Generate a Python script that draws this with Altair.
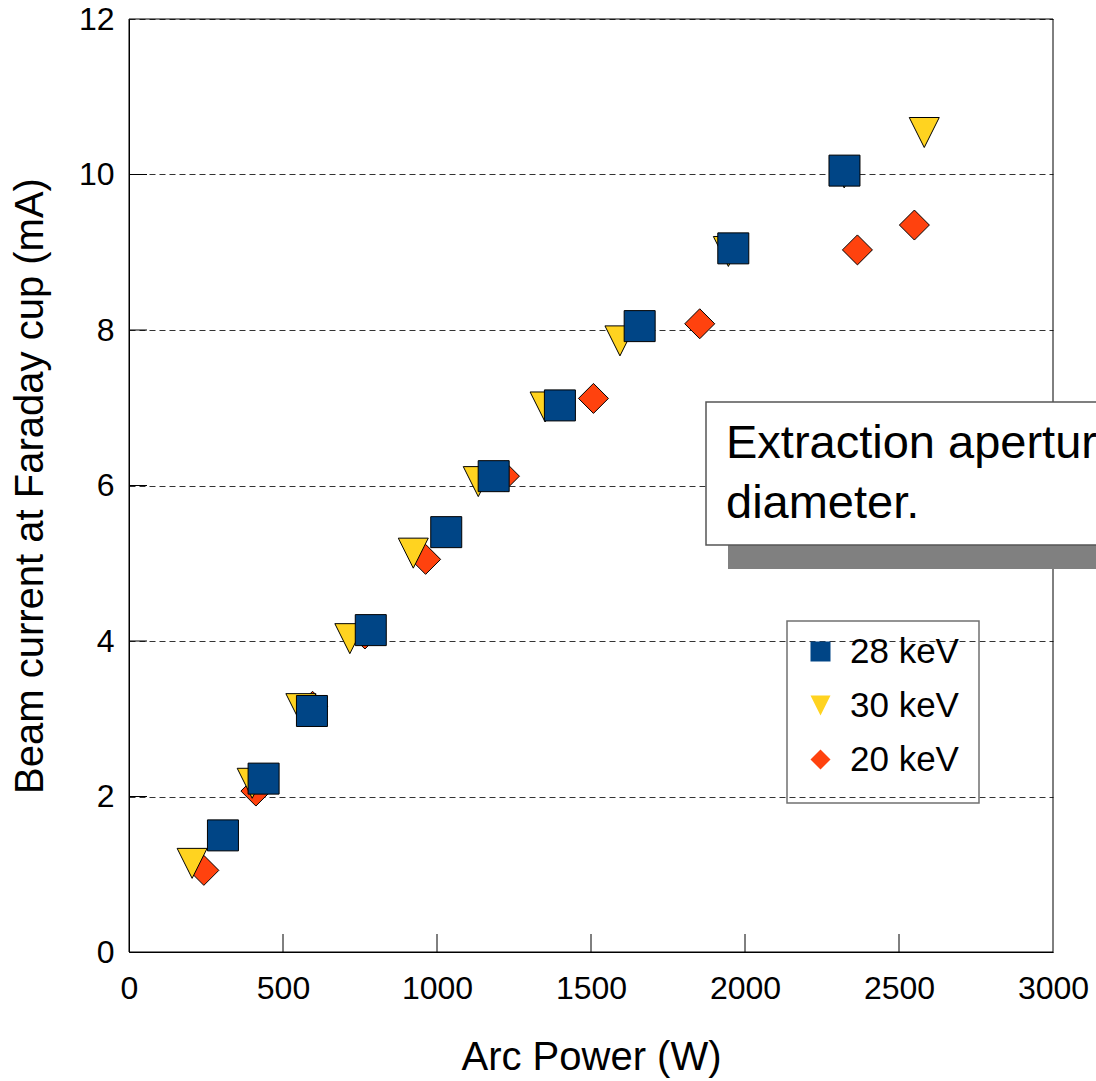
import altair as alt
import pandas as pd

# ---- data ----
series_names = ["28 keV", "30 keV", "20 keV"]
series_colors = ["#004586", "#ffd320", "#ff420e"]

power_28 = [305, 437, 594, 785, 1030, 1184, 1399, 1658, 1962, 2323]
current_28 = [1.50, 2.23, 3.10, 4.14, 5.40, 6.12, 7.03, 8.05, 9.05, 10.05]

power_30 = [205, 400, 558, 717, 923, 1134, 1351, 1594, 1946, 2322, 2582]
current_30 = [1.14, 2.17, 3.13, 4.03, 5.13, 6.05, 7.01, 7.86, 9.01, 10.02, 10.54]

power_20 = [243, 412, 596, 766, 963, 1219, 1508, 1853, 2365, 2550]
current_20 = [1.05, 2.07, 3.16, 4.09, 5.05, 6.12, 7.12, 8.08, 9.03, 9.35]

x_ticks = [0, 500, 1000, 1500, 2000, 2500, 3000]
y_ticks = [0, 2, 4, 6, 8, 10, 12]
x_inner_ticks = [500, 1000, 1500, 2000, 2500]
y_inner_ticks = [2, 4, 6, 8, 10]

annotation_lines = ["Extraction aperture", "diameter."]

FONT = "Liberation Sans"
W, H = 924, 933

tri_down = "M-1,-1L1,-1L0,1Z"
series_shapes = ["square", tri_down, "diamond"]
marker_size = {"28 keV": 961, "30 keV": 900, "20 keV": 900}

rows = []
for name, xs, ys in [("20 keV", power_20, current_20),
                     ("30 keV", power_30, current_30),
                     ("28 keV", power_28, current_28)]:
    for p, c in zip(xs, ys):
        rows.append({"series": name, "power": p, "current": c, "sz": marker_size[name]})
df = pd.DataFrame(rows)

xscale = alt.Scale(domain=[0, 3000], nice=False, zero=False)
yscale = alt.Scale(domain=[0, 12], nice=False, zero=False)

legend = alt.Legend(
    title=None, orient="none", legendX=661, legendY=602,
    symbolSize=400, symbolStrokeColor="black", symbolStrokeWidth=1,
    labelFont=FONT, labelFontSize=35, labelColor="black", labelOffset=12,
    padding=13, rowPadding=18, strokeColor="transparent", fillColor="transparent",
)

points = alt.Chart(df).mark_point(filled=True, stroke="black", strokeWidth=1, opacity=1).encode(
    x=alt.X("power:Q", scale=xscale,
            axis=alt.Axis(values=x_ticks, title="Arc Power (W)", grid=False, ticks=False, tickSize=0,
                          labelPadding=21, titlePadding=33, format="d", labelFlush=False)),
    y=alt.Y("current:Q", scale=yscale,
            axis=alt.Axis(values=y_ticks, title="Beam current at Faraday cup (mA)", grid=True,
                          ticks=False, tickSize=0, labelPadding=15, titlePadding=28, format="d",
                          labelFlush=False,
                          gridColor="#333333", gridDash=[6, 4], gridWidth=1)),
    fill=alt.Fill("series:N", scale=alt.Scale(domain=series_names, range=series_colors), legend=legend),
    shape=alt.Shape("series:N", scale=alt.Scale(domain=series_names, range=series_shapes), legend=legend),
    size=alt.Size("sz:Q", scale=None, legend=None),
)

frame = alt.Chart(pd.DataFrame({"k": [0]})).mark_rect(fill="transparent", stroke="black", strokeWidth=1).encode(
    x=alt.value(0), x2=alt.value(W), y=alt.value(0), y2=alt.value(H)
)

xt = alt.Chart(pd.DataFrame({"power": x_inner_ticks})).mark_rule(color="black", strokeWidth=1).encode(
    x="power:Q", y=alt.value(H), y2=alt.value(H - 18)
)
yt = alt.Chart(pd.DataFrame({"current": y_inner_ticks})).mark_rule(color="black", strokeWidth=1).encode(
    y="current:Q", x=alt.value(0), x2=alt.value(18)
)

legend_box = alt.Chart(pd.DataFrame({"k": [0]})).mark_rect(
    fill="transparent", stroke="#707070", strokeWidth=1.5
).encode(x=alt.value(658), x2=alt.value(850), y=alt.value(602), y2=alt.value(784))

shadow = alt.Chart(pd.DataFrame({"k": [0]})).mark_rect(fill="#808080").encode(
    x=alt.value(599), x2=alt.value(1100), y=alt.value(420), y2=alt.value(550)
)
box = alt.Chart(pd.DataFrame({"k": [0]})).mark_rect(fill="white", stroke="#555555", strokeWidth=1.5).encode(
    x=alt.value(577), x2=alt.value(1100), y=alt.value(383), y2=alt.value(526)
)
note = alt.Chart(pd.DataFrame({"t": ["\n".join(annotation_lines)]})).mark_text(
    align="left", baseline="alphabetic", font=FONT, fontSize=47, lineBreak="\n", lineHeight=60, color="black"
).encode(x=alt.value(597), y=alt.value(439), text="t:N")

chart = alt.layer(frame, xt, yt, legend_box, points, shadow, box, note).properties(
    width=W, height=H,
    autosize=alt.AutoSizeParams(type="none"),
    padding={"left": 129, "top": 19, "right": 43, "bottom": 129},
    background="white",
).configure_view(strokeWidth=0).configure_axis(
    labelFont=FONT, labelFontSize=32, labelColor="black",
    titleFont=FONT, titleFontSize=40, titleFontWeight="normal", titleColor="black",
    domainColor="black", domainWidth=1,
)

chart.save("out.html", embed_options={"renderer": "svg", "actions": False})
